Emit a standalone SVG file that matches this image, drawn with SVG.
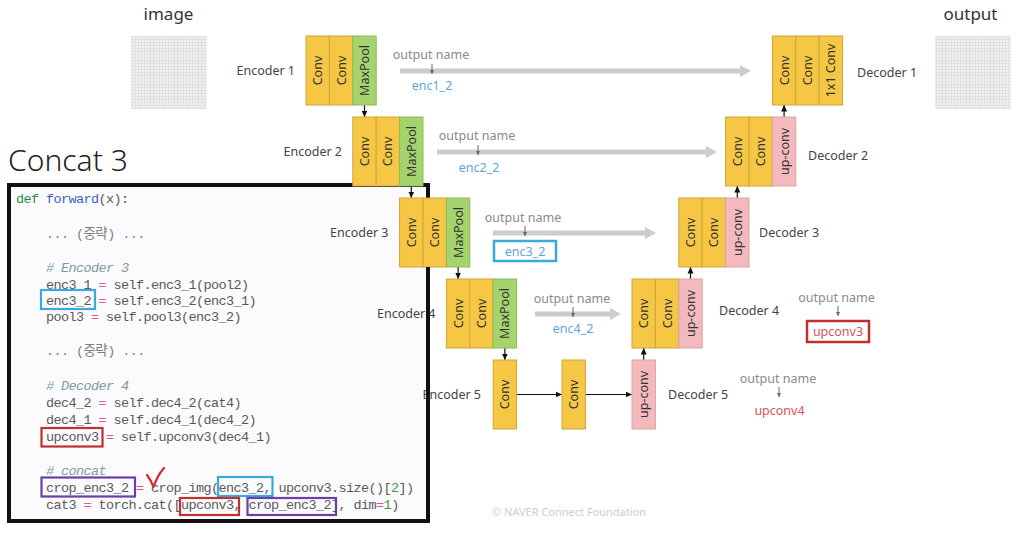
<svg xmlns="http://www.w3.org/2000/svg" width="1020" height="534" viewBox="0 0 1020 534">
<defs>
<style>
.lbl{font-family:"Noto Sans","Liberation Sans",sans-serif;font-size:12.5px;fill:#444}
.lbe{text-anchor:end}
.blk{font-family:"Noto Sans","Liberation Sans",sans-serif;font-size:12.5px;fill:#333;text-anchor:middle;dominant-baseline:central}
.conv{fill:#F5C745;stroke:#CFA53A;stroke-width:1}
.pool{fill:#A5D46F;stroke:#8CBB57;stroke-width:1}
.up{fill:#F4B9BD;stroke:#DBA3A7;stroke-width:1}
.on{font-family:"Noto Sans","Liberation Sans",sans-serif;font-size:12.5px;fill:#8a8a8a;text-anchor:middle}
.enc{font-family:"Noto Sans","Liberation Sans",sans-serif;font-size:12.5px;fill:#5aa5da;text-anchor:middle}
.rd{font-family:"Noto Sans","Liberation Sans",sans-serif;font-size:12.5px;fill:#d9505a;text-anchor:middle}
.ttl{font-family:"Noto Sans","Liberation Sans",sans-serif;font-size:17px;fill:#333;text-anchor:middle}
.skip{stroke:#cccccc;stroke-width:5;fill:none;marker-end:url(#ga)}
.arr{stroke:#111;stroke-width:1.2;fill:none;marker-end:url(#ba)}
.tick{stroke:#666;stroke-width:1;fill:none;marker-end:url(#ta)}
.code{font-family:"Liberation Mono","Noto Sans CJK KR",monospace;font-size:13.5px;letter-spacing:-0.6px;fill:#5a5a5a}
.eq{fill:#e0529c}
.num{fill:#3a9a4a}
.cm{fill:#7d9d9d;font-style:italic}
.om{fill:#808080}
.hb{fill:none;stroke:#3aa9dc;stroke-width:2.2}
.hr{fill:none;stroke:#c0302e;stroke-width:2.2}
.hp{fill:none;stroke:#6b3fa5;stroke-width:2.2}
</style>
<marker id="ga" markerUnits="userSpaceOnUse" markerWidth="12" markerHeight="14" refX="0" refY="7" orient="auto"><path d="M0,1 L11,7 L0,13 Z" fill="#cccccc"/></marker>
<marker id="ba" markerUnits="userSpaceOnUse" markerWidth="7" markerHeight="7" refX="6.5" refY="3.5" orient="auto"><path d="M0,0.5 L6.5,3.5 L0,6.5 Z" fill="#111"/></marker>
<marker id="ta" markerUnits="userSpaceOnUse" markerWidth="5" markerHeight="5" refX="4" refY="2" orient="auto"><path d="M0,0 L4,2 L0,4 Z" fill="#666"/></marker>
<pattern id="grid" width="3" height="3" patternUnits="userSpaceOnUse"><rect width="3" height="3" fill="#f1f1f1"/><path d="M0,0.5H3M0.5,0V3" stroke="#d6d6d6" stroke-width="0.6"/></pattern>
</defs>
<rect width="1020" height="534" fill="#ffffff"/>

<g id="image">
<text class="ttl" x="168.5" y="20">image</text>
<rect x="131" y="36" width="76" height="73" fill="url(#grid)"/>
</g>
<g id="output">
<text class="ttl" x="970.5" y="20">output</text>
<rect x="935" y="36" width="76" height="73" fill="url(#grid)"/>
</g>

<text x="8" y="171" font-family="'Noto Sans','Liberation Sans',sans-serif" font-size="30" font-weight="300" fill="#222">Concat 3</text>

<g id="code-box">
<rect x="9" y="185" width="419" height="336" fill="#fbfbfd" stroke="#111" stroke-width="4"/>
</g>

<g id="skip-annotations">
<text class="on" x="431" y="59">output name</text>
<text class="enc" x="432" y="90">enc1_2</text>
<text class="on" x="477" y="140">output name</text>
<text class="enc" x="479" y="172">enc2_2</text>
<text class="on" x="523" y="222">output name</text>
<rect x="494" y="241" width="62" height="20" fill="none" stroke="#3aa9dc" stroke-width="2.5"/>
<text class="enc" x="525" y="256">enc3_2</text>
<text class="on" x="572" y="303">output name</text>
<text class="enc" x="573" y="333">enc4_2</text>
<text class="on" x="836.5" y="302">output name</text>
<line class="tick" x1="838" y1="306" x2="838" y2="316"/>
<rect x="807" y="321" width="62" height="21" fill="none" stroke="#c0302e" stroke-width="2.5"/>
<text class="rd" x="838" y="336">upconv3</text>
<text class="on" x="778" y="383">output name</text>
<line class="tick" x1="779" y1="387" x2="779" y2="397"/>
<text class="rd" x="779.5" y="415">upconv4</text>
</g>

<g id="connectors">
<line class="skip" x1="400" y1="71" x2="740" y2="71"/>
<line class="skip" x1="437" y1="152" x2="706" y2="152"/>
<line class="skip" x1="493" y1="233" x2="645" y2="233"/>
<line class="skip" x1="535" y1="314" x2="610" y2="314"/>
<line class="tick" x1="432" y1="64" x2="432" y2="74"/>
<line class="tick" x1="478" y1="145" x2="478" y2="155"/>
<line class="tick" x1="525" y1="226" x2="525" y2="236"/>
<line class="tick" x1="573" y1="307" x2="573" y2="317"/>
<line class="arr" x1="364.5" y1="105" x2="364.5" y2="117"/>
<line class="arr" x1="411.3" y1="186" x2="411.3" y2="198"/>
<line class="arr" x1="458.1" y1="267" x2="458.1" y2="279"/>
<line class="arr" x1="504.9" y1="348" x2="504.9" y2="360"/>
<line class="arr" x1="516.6" y1="394.5" x2="562" y2="394.5"/>
<line class="arr" x1="585.4" y1="394.5" x2="632" y2="394.5"/>
<line class="arr" x1="643.7" y1="360" x2="643.7" y2="348"/>
<line class="arr" x1="690.5" y1="279" x2="690.5" y2="267"/>
<line class="arr" x1="737.3" y1="198" x2="737.3" y2="186"/>
<line class="arr" x1="784.1" y1="117" x2="784.1" y2="105"/>
</g>

<g id="encoder1">
<text class="lbl lbe" x="295" y="75">Encoder 1</text>
<rect class="conv" x="306" y="36" width="23.4" height="69"/>
<rect class="conv" x="329.4" y="36" width="23.4" height="69"/>
<rect class="pool" x="352.8" y="36" width="23.4" height="69"/>
<text class="blk" x="317.7" y="70.5" transform="rotate(-90 317.7 70.5)">Conv</text>
<text class="blk" x="341.1" y="70.5" transform="rotate(-90 341.1 70.5)">Conv</text>
<text class="blk" x="364.5" y="70.5" transform="rotate(-90 364.5 70.5)">MaxPool</text>
</g>
<g id="encoder2">
<text class="lbl lbe" x="342" y="156">Encoder 2</text>
<rect class="conv" x="352.8" y="117" width="23.4" height="69"/>
<rect class="conv" x="376.2" y="117" width="23.4" height="69"/>
<rect class="pool" x="399.6" y="117" width="23.4" height="69"/>
<text class="blk" x="364.5" y="151.5" transform="rotate(-90 364.5 151.5)">Conv</text>
<text class="blk" x="387.9" y="151.5" transform="rotate(-90 387.9 151.5)">Conv</text>
<text class="blk" x="411.3" y="151.5" transform="rotate(-90 411.3 151.5)">MaxPool</text>
</g>
<g id="encoder3">
<text class="lbl lbe" x="388.5" y="237">Encoder 3</text>
<rect class="conv" x="399.6" y="198" width="23.4" height="69"/>
<rect class="conv" x="423" y="198" width="23.4" height="69"/>
<rect class="pool" x="446.4" y="198" width="23.4" height="69"/>
<text class="blk" x="411.3" y="232.5" transform="rotate(-90 411.3 232.5)">Conv</text>
<text class="blk" x="434.7" y="232.5" transform="rotate(-90 434.7 232.5)">Conv</text>
<text class="blk" x="458.1" y="232.5" transform="rotate(-90 458.1 232.5)">MaxPool</text>
</g>
<g id="encoder4">
<text class="lbl lbe" x="435.5" y="318">Encoder 4</text>
<rect class="conv" x="446.4" y="279" width="23.4" height="69"/>
<rect class="conv" x="469.8" y="279" width="23.4" height="69"/>
<rect class="pool" x="493.2" y="279" width="23.4" height="69"/>
<text class="blk" x="458.1" y="313.5" transform="rotate(-90 458.1 313.5)">Conv</text>
<text class="blk" x="481.5" y="313.5" transform="rotate(-90 481.5 313.5)">Conv</text>
<text class="blk" x="504.9" y="313.5" transform="rotate(-90 504.9 313.5)">MaxPool</text>
</g>
<g id="encoder5">
<text class="lbl lbe" x="481" y="399">Encoder 5</text>
<rect class="conv" x="493.2" y="360" width="23.4" height="69"/>
<rect class="conv" x="562" y="360" width="23.4" height="69"/>
<text class="blk" x="504.9" y="394.5" transform="rotate(-90 504.9 394.5)">Conv</text>
<text class="blk" x="573.7" y="394.5" transform="rotate(-90 573.7 394.5)">Conv</text>
</g>
<g id="decoder5">
<text class="lbl" x="668" y="398.5">Decoder 5</text>
<rect class="up" x="632" y="360" width="23.4" height="69"/>
<text class="blk" x="643.7" y="394.5" transform="rotate(-90 643.7 394.5)">up-conv</text>
</g>
<g id="decoder4">
<text class="lbl" x="719" y="315">Decoder 4</text>
<rect class="conv" x="632" y="279" width="23.4" height="69"/>
<rect class="conv" x="655.4" y="279" width="23.4" height="69"/>
<rect class="up" x="678.8" y="279" width="23.4" height="69"/>
<text class="blk" x="643.7" y="313.5" transform="rotate(-90 643.7 313.5)">Conv</text>
<text class="blk" x="667.1" y="313.5" transform="rotate(-90 667.1 313.5)">Conv</text>
<text class="blk" x="690.5" y="313.5" transform="rotate(-90 690.5 313.5)">up-conv</text>
</g>
<g id="decoder3">
<text class="lbl" x="759" y="236.5">Decoder 3</text>
<rect class="conv" x="678.8" y="198" width="23.4" height="69"/>
<rect class="conv" x="702.2" y="198" width="23.4" height="69"/>
<rect class="up" x="725.6" y="198" width="23.4" height="69"/>
<text class="blk" x="690.5" y="232.5" transform="rotate(-90 690.5 232.5)">Conv</text>
<text class="blk" x="713.9" y="232.5" transform="rotate(-90 713.9 232.5)">Conv</text>
<text class="blk" x="737.3" y="232.5" transform="rotate(-90 737.3 232.5)">up-conv</text>
</g>
<g id="decoder2">
<text class="lbl" x="808" y="160">Decoder 2</text>
<rect class="conv" x="725.6" y="117" width="23.4" height="69"/>
<rect class="conv" x="749" y="117" width="23.4" height="69"/>
<rect class="up" x="772.4" y="117" width="23.4" height="69"/>
<text class="blk" x="737.3" y="151.5" transform="rotate(-90 737.3 151.5)">Conv</text>
<text class="blk" x="760.7" y="151.5" transform="rotate(-90 760.7 151.5)">Conv</text>
<text class="blk" x="784.1" y="151.5" transform="rotate(-90 784.1 151.5)">up-conv</text>
</g>
<g id="decoder1">
<text class="lbl" x="857" y="77">Decoder 1</text>
<rect class="conv" x="772.4" y="36" width="23.4" height="69"/>
<rect class="conv" x="795.8" y="36" width="23.4" height="69"/>
<rect class="conv" x="819.2" y="36" width="23.4" height="69"/>
<text class="blk" x="784.1" y="70.5" transform="rotate(-90 784.1 70.5)">Conv</text>
<text class="blk" x="807.5" y="70.5" transform="rotate(-90 807.5 70.5)">Conv</text>
<text class="blk" x="830.9" y="70.5" transform="rotate(-90 830.9 70.5)">1x1 Conv</text>
</g>

<g id="code-text">
<line x1="428" y1="267" x2="428" y2="523" stroke="#111" stroke-width="4"/>
<text class="code" x="16" y="202.5"><tspan fill="#2e8b3e">def</tspan> <tspan fill="#3d5fc4">forward</tspan>(x):</text>
<text class="code om" x="46" y="237.5">... (중략) ...</text>
<text class="code cm" x="46" y="271.5"># Encoder 3</text>
<text class="code" x="46" y="288.5">enc3_1 <tspan class="eq">=</tspan> self.enc3_1(pool2)</text>
<text class="code" x="46" y="304.5">enc3_2 <tspan class="eq">=</tspan> self.enc3_2(enc3_1)</text>
<text class="code" x="46" y="320.5">pool3 <tspan class="eq">=</tspan> self.pool3(enc3_2)</text>
<text class="code om" x="46" y="354.5">... (중략) ...</text>
<text class="code cm" x="46" y="389.5"># Decoder 4</text>
<text class="code" x="46" y="406.5">dec4_2 <tspan class="eq">=</tspan> self.dec4_2(cat4)</text>
<text class="code" x="46" y="423.5">dec4_1 <tspan class="eq">=</tspan> self.dec4_1(dec4_2)</text>
<text class="code" x="46" y="441">upconv3 <tspan class="eq">=</tspan> self.upconv3(dec4_1)</text>
<text class="code cm" x="46" y="475"># concat</text>
<text class="code" x="46" y="491.5">crop_enc3_2 <tspan class="eq">=</tspan> crop_img(enc3_2, upconv3.size()[<tspan class="num">2</tspan>])</text>
<text class="code" x="46" y="508.5">cat3 <tspan class="eq">=</tspan> torch.cat([upconv3, crop_enc3_2], dim<tspan class="eq">=</tspan><tspan class="num">1</tspan>)</text>
<rect class="hb" x="41" y="290" width="54" height="19"/>
<rect class="hr" x="41.5" y="428" width="61" height="18.5"/>
<rect class="hp" x="41.5" y="477.5" width="93.5" height="19"/>
<rect class="hb" x="218" y="477" width="54.5" height="19"/>
<rect class="hr" x="180" y="498" width="59" height="17"/>
<rect class="hp" x="247.5" y="498" width="88.5" height="17"/>
<path d="M147,475 Q151,480 153.5,487 Q157,476 164,468" fill="none" stroke="#d42a2a" stroke-width="2.2" stroke-linecap="round" stroke-linejoin="round"/>
</g>

<text x="492" y="516" font-family="'Noto Sans','Liberation Sans',sans-serif" font-size="11" fill="#cccccc">© NAVER Connect Foundation</text>
</svg>
